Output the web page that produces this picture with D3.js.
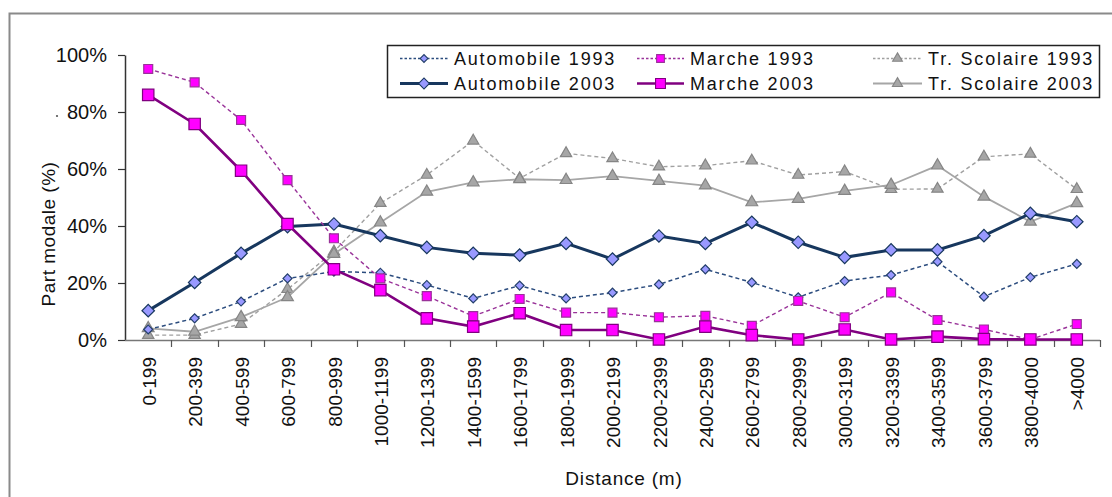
<!doctype html>
<html>
<head>
<meta charset="utf-8">
<style>
  body { margin: 0; background: #fff; }
  svg { display: block; font-family: "Liberation Sans", Arial, sans-serif; }
</style>
<script src="https://d3js.org/d3.v7.min.js"></script>
</head>
<body>
<svg width="1112" height="497"></svg>
<script>
// distance classes (x axis)
var categories = ["0-199", "200-399", "400-599", "600-799", "800-999", "1000-1199", "1200-1399",
  "1400-1599", "1600-1799", "1800-1999", "2000-2199", "2200-2399", "2400-2599", "2600-2799",
  "2800-2999", "3000-3199", "3200-3399", "3400-3599", "3600-3799", "3800-4000", ">4000"];

// part modale in %
var auto1993 = [3.7, 7.6, 13.5, 21.6, 24.0, 23.6, 19.3, 14.6, 19.1, 14.6, 16.6, 19.5, 24.8, 20.2, 15.0, 20.7, 22.8, 27.5, 15.2, 22.0, 26.7];
var auto2003 = [10.3, 20.2, 30.4, 39.8, 40.7, 36.6, 32.5, 30.4, 29.8, 33.9, 28.4, 36.5, 33.9, 41.3, 34.3, 29.0, 31.6, 31.6, 36.6, 44.4, 41.5];
var marche1993 = [95.1, 90.4, 77.2, 56.1, 35.7, 21.6, 15.4, 8.4, 14.4, 9.6, 9.6, 8.0, 8.5, 5.0, 13.7, 8.0, 16.7, 7.0, 3.7, 0.2, 5.6];
var marche2003 = [86.0, 75.8, 59.4, 40.7, 24.8, 17.5, 7.6, 4.7, 9.4, 3.5, 3.5, 0.2, 4.7, 1.7, 0.2, 3.7, 0.2, 1.2, 0.3, 0.2, 0.2];
var scol1993 = [1.7, 1.7, 5.6, 17.8, 31.0, 48.0, 57.9, 69.9, 56.7, 65.5, 63.7, 60.8, 61.2, 62.9, 57.9, 59.1, 52.9, 53.0, 64.3, 65.3, 52.9];
var scol2003 = [4.1, 2.9, 8.0, 15.0, 30.2, 41.2, 52.0, 55.3, 56.4, 56.1, 57.5, 55.8, 54.2, 48.3, 49.5, 52.3, 54.4, 61.2, 50.3, 41.5, 48.0];

var yTicks = [0, 20, 40, 60, 80, 100];

var svg = d3.select("svg");

var x = d3.scaleBand().domain(categories).range([125, 1100]).padding(0);
var y = d3.scaleLinear().domain([0, 100]).range([340, 55]);

// outer frame (only top and left visible)
svg.append("path")
  .attr("d", "M9.5,497V13.5H1112")
  .attr("fill", "none")
  .attr("stroke", "#8a8a8a")
  .attr("stroke-width", 2);

// y axis
var yAxis = svg.append("g")
  .attr("transform", "translate(125,0)")
  .call(d3.axisLeft(y).tickValues(yTicks).tickSize(7).tickSizeOuter(0).tickPadding(11)
    .tickFormat(function(d) { return d + "%"; }));
yAxis.select(".domain").attr("stroke", "#333").attr("stroke-width", 1.5);
yAxis.selectAll(".tick line").attr("stroke", "#333").attr("stroke-width", 1.2);
yAxis.selectAll("text").attr("font-size", "20px").attr("fill", "#111")
  .attr("font-family", "Liberation Sans, Arial, sans-serif");

// stray dot in front of 80%
svg.append("circle").attr("cx", 57).attr("cy", y(80) + 4).attr("r", 1.1).attr("fill", "#555");

// x axis line
svg.append("line")
  .attr("x1", 125).attr("x2", 1100)
  .attr("y1", 340.5).attr("y2", 340.5)
  .attr("stroke", "#777").attr("stroke-width", 1.5);

// x ticks between categories
var tickPos = categories.map(function(c) { return x(c); }).concat([x.range()[1]]);
svg.append("g").selectAll("line")
  .data(tickPos.slice(1))
  .enter().append("line")
  .attr("x1", function(d) { return Math.round(d) + 0.5; })
  .attr("x2", function(d) { return Math.round(d) + 0.5; })
  .attr("y1", 340).attr("y2", 347)
  .attr("stroke", "#555").attr("stroke-width", 1.2);

// x labels rotated
svg.append("g").selectAll("text")
  .data(categories)
  .enter().append("text")
  .attr("transform", function(d) {
    return "translate(" + (x(d) + x.bandwidth() / 2 + 1) + ",357) rotate(-90)";
  })
  .attr("text-anchor", "end")
  .attr("dy", "0.35em")
  .attr("font-size", "19px")
  .attr("fill", "#111")
  .text(function(d) { return d; });

// axis titles
svg.append("text")
  .attr("x", 624).attr("y", 485)
  .attr("text-anchor", "middle")
  .attr("font-size", "19px")
  .attr("letter-spacing", "0.8px")
  .attr("fill", "#111")
  .text("Distance (m)");

svg.append("text")
  .attr("transform", "translate(55,234) rotate(-90)")
  .attr("text-anchor", "middle")
  .attr("font-size", "19px")
  .attr("letter-spacing", "0.5px")
  .attr("fill", "#111")
  .text("Part modale (%)");

// series definitions (rot: 45 turns the square into an Excel-like diamond)
var series = [
  { name: "Tr. Scolaire 1993", values: scol1993, line: "#a0a0a0", width: 1.4, dash: "4,3",
    shape: d3.symbolTriangle, rot: 0, size: 55, fill: "#a6a6a6", stroke: "#858585" },
  { name: "Tr. Scolaire 2003", values: scol2003, line: "#a6a6a6", width: 1.8, dash: null,
    shape: d3.symbolTriangle, rot: 0, size: 60, fill: "#a6a6a6", stroke: "#858585" },
  { name: "Automobile 1993", values: auto1993, line: "#2b4c7e", width: 1.5, dash: "4,3",
    shape: d3.symbolSquare, rot: 45, size: 40, fill: "#9999ff", stroke: "#24406c" },
  { name: "Automobile 2003", values: auto2003, line: "#17375e", width: 3, dash: null,
    shape: d3.symbolSquare, rot: 45, size: 78, fill: "#9999ff", stroke: "#17375e" },
  { name: "Marche 1993", values: marche1993, line: "#993399", width: 1.4, dash: "4,3",
    shape: d3.symbolSquare, rot: 0, size: 80, fill: "#ff00ff", stroke: "#993399" },
  { name: "Marche 2003", values: marche2003, line: "#800080", width: 2.6, dash: null,
    shape: d3.symbolSquare, rot: 0, size: 130, fill: "#ff00ff", stroke: "#800080" }
];

var line = d3.line()
  .x(function(d, i) { return x(categories[i]) + x.bandwidth() / 2; })
  .y(function(d) { return y(d); });

series.forEach(function(s) {
  var g = svg.append("g");
  g.append("path")
    .datum(s.values)
    .attr("d", line)
    .attr("fill", "none")
    .attr("stroke", s.line)
    .attr("stroke-width", s.width)
    .attr("stroke-dasharray", s.dash);
  g.selectAll("path.m")
    .data(s.values)
    .enter().append("path")
    .attr("class", "m")
    .attr("d", d3.symbol().type(s.shape).size(s.size))
    .attr("transform", function(d, i) {
      return "translate(" + (x(categories[i]) + x.bandwidth() / 2) + "," + y(d) + ") rotate(" + s.rot + ")";
    })
    .attr("fill", s.fill)
    .attr("stroke", s.stroke)
    .attr("stroke-width", 1.2);
});

// legend
var legend = svg.append("g");
legend.append("rect")
  .attr("x", 387.5).attr("y", 45.5)
  .attr("width", 712).attr("height", 52)
  .attr("fill", "#fff")
  .attr("stroke", "#222").attr("stroke-width", 1.5);

var legendOrder = ["Automobile 1993", "Marche 1993", "Tr. Scolaire 1993",
  "Automobile 2003", "Marche 2003", "Tr. Scolaire 2003"];
var colX = [400, 637, 873];
var rowY = [58.5, 83.5];
var sampleW = [48, 47, 49];

legendOrder.forEach(function(name, k) {
  var s = series.filter(function(d) { return d.name === name; })[0];
  var col = k % 3, row = Math.floor(k / 3);
  var x0 = colX[col], yy = rowY[row], w = sampleW[col];
  legend.append("line")
    .attr("x1", x0).attr("x2", x0 + w)
    .attr("y1", yy).attr("y2", yy)
    .attr("stroke", s.line)
    .attr("stroke-width", s.width)
    .attr("stroke-dasharray", s.dash ? "2.5,2" : null);
  legend.append("path")
    .attr("d", d3.symbol().type(s.shape).size(s.size * 0.75))
    .attr("transform", "translate(" + (x0 + w / 2) + "," + yy + ") rotate(" + s.rot + ")")
    .attr("fill", s.fill)
    .attr("stroke", s.stroke)
    .attr("stroke-width", 1.1);
  legend.append("text")
    .attr("x", x0 + w + 6).attr("y", yy)
    .attr("dy", "0.36em")
    .attr("font-size", "18px")
    .attr("letter-spacing", "1.8px")
    .attr("fill", "#111")
    .text(name);
});
</script>
</body>
</html>
